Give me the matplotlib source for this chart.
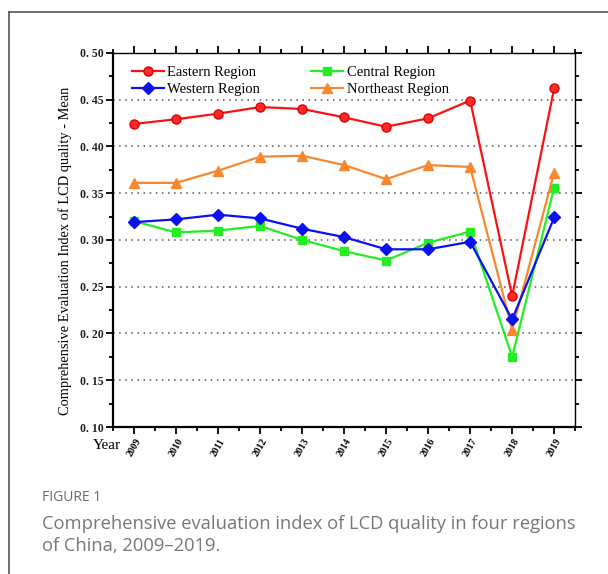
import matplotlib
matplotlib.use("Agg")
import matplotlib.pyplot as plt
from matplotlib.lines import Line2D
from matplotlib.ticker import MultipleLocator, FuncFormatter

years = [2009, 2010, 2011, 2012, 2013, 2014, 2015, 2016, 2017, 2018, 2019]
eastern = [0.424, 0.429, 0.435, 0.442, 0.440, 0.431, 0.421, 0.430, 0.449, 0.240, 0.462]
central = [0.320, 0.308, 0.310, 0.315, 0.300, 0.288, 0.278, 0.297, 0.309, 0.175, 0.356]
western = [0.319, 0.322, 0.327, 0.323, 0.312, 0.303, 0.290, 0.290, 0.298, 0.215, 0.324]
northeast = [0.361, 0.361, 0.374, 0.389, 0.390, 0.380, 0.365, 0.380, 0.378, 0.204, 0.372]

serif = "Liberation Serif"

fig = plt.figure(figsize=(6.08, 5.74), dpi=100)
ax = fig.add_axes([0.186, 0.256, 0.760, 0.652])

ax.plot(years, eastern, color="#ff1010", marker="o", ms=6.5, lw=1.6,
        mec="#e00000", mfc="#ff2a2a", label="Eastern Region", zorder=5)
ax.plot(years, western, color="#0a10f0", marker="D", ms=6.5, lw=1.6,
        label="Western Region", zorder=4)
ax.plot(years, central, color="#22ee22", marker="s", ms=6, lw=1.6,
        label="Central Region", zorder=3)
ax.plot(years, northeast, color="#f7882f", marker="^", ms=7, lw=1.6,
        label="Northeast Region", zorder=3)

ax.set_xlim(2008.5, 2019.5)
ax.set_ylim(0.10, 0.50)

# dotted guides at the major y ticks
for yv in [0.15, 0.20, 0.25, 0.30, 0.35, 0.40, 0.45]:
    ax.axhline(yv, color="#555555", lw=1.1, ls=(0, (1, 3)), zorder=1)

ax.yaxis.set_major_locator(MultipleLocator(0.05))
ax.yaxis.set_minor_locator(MultipleLocator(0.025))
ax.yaxis.set_major_formatter(FuncFormatter(lambda v, p: f"{v:.2f}".replace(".", ". ")))
ax.set_xticks(years)
ax.xaxis.set_minor_locator(MultipleLocator(0.5))

ax.tick_params(which="both", direction="out", top=True, right=True, width=1.3)
ax.tick_params(which="major", length=5)
ax.tick_params(which="minor", length=3)
ax.tick_params(axis="x", which="major", labelrotation=60, pad=2)
ax.tick_params(axis="y", which="major", pad=2)

for lab in ax.get_yticklabels():
    lab.set_fontfamily(serif)
    lab.set_fontsize(8.5)
    lab.set_fontweight("bold")
    lab.set_color("#222222")
for lab in ax.get_xticklabels():
    lab.set_fontfamily(serif)
    lab.set_fontsize(7)
    lab.set_fontweight("bold")
    lab.set_ha("center")
    lab.set_va("top")

for side in ["left", "bottom"]:
    ax.spines[side].set_linewidth(1.6)
for side in ["top", "right"]:
    ax.spines[side].set_linewidth(1.0)

ax.set_ylabel("Comprehensive Evaluation Index of LCD quality - Mean",
              fontfamily=serif, fontsize=10.4)
ax.yaxis.set_label_coords(-0.09, 0.47)
ax.text(0.017, -0.05, "Year", transform=ax.transAxes, ha="right", va="center",
        fontfamily=serif, fontsize=11)

leg = ax.legend(loc="upper left", ncol=2, frameon=False,
                prop={"family": serif, "size": 10.5},
                handlelength=2.2, handletextpad=0.25, columnspacing=3.5,
                labelspacing=0.28, borderaxespad=0.4,
                bbox_to_anchor=(0.015, 0.997))

# outer frame of the figure panel
fig.add_artist(Line2D([0.015, 0.015], [0.0, 0.979], color="#555555", lw=1.2,
                      transform=fig.transFigure))
fig.add_artist(Line2D([0.015, 1.0], [0.979, 0.979], color="#555555", lw=1.2,
                      transform=fig.transFigure))

fig.text(0.069, 0.134, "FIGURE 1", fontfamily="Open Sans", fontsize=10,
         color="#6a6a6a", va="center")
fig.text(0.069, 0.068,
         "Comprehensive evaluation index of LCD quality in four regions\nof China, 2009\u20132019.",
         fontfamily="Open Sans", fontsize=13.2, color="#777777", va="center",
         linespacing=1.3)

fig.savefig("out.png", dpi=100)
